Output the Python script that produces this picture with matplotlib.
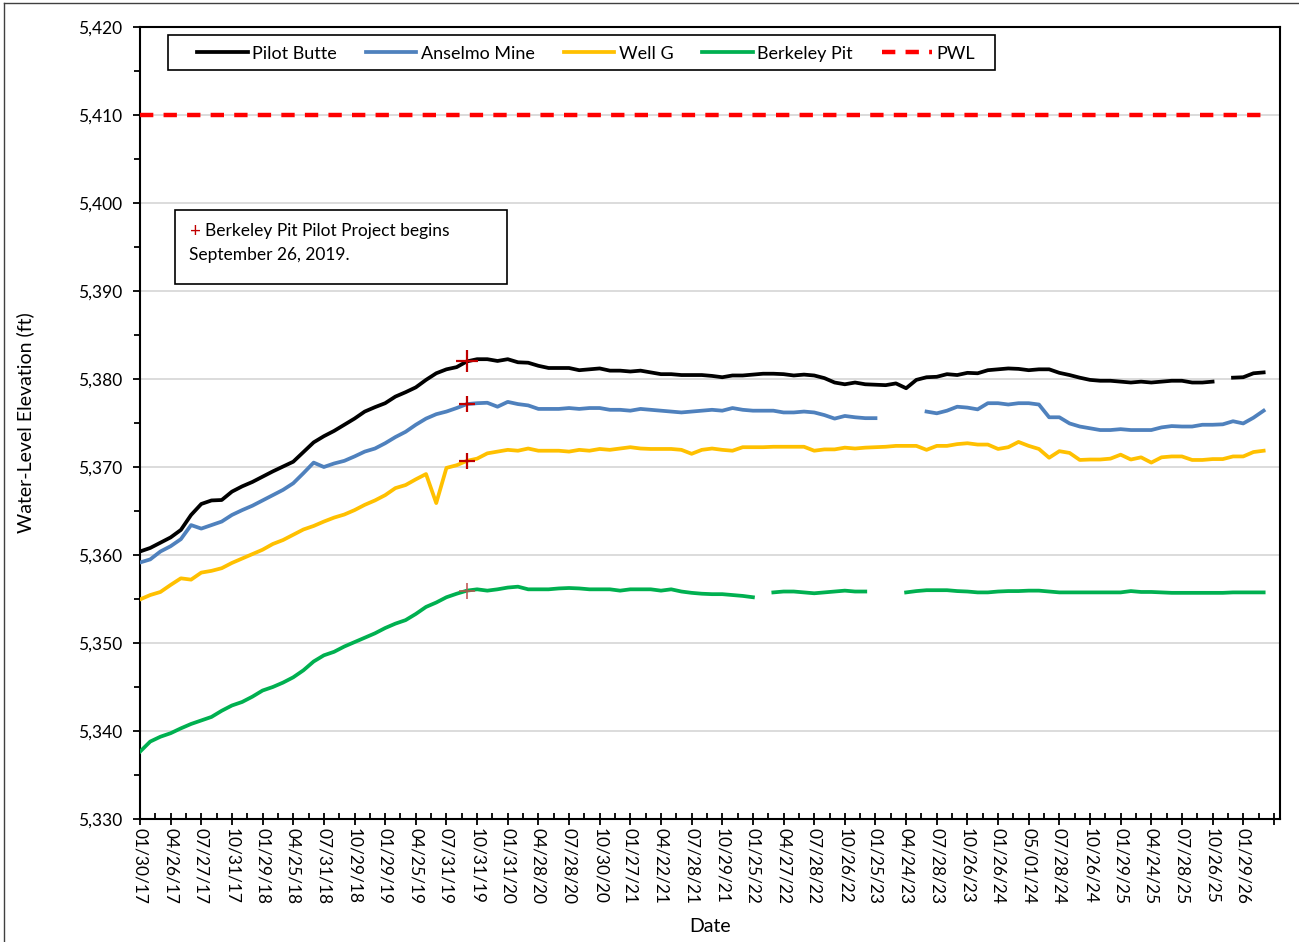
import numpy as np
import matplotlib
matplotlib.use("Agg")
import matplotlib.pyplot as plt
from matplotlib.patches import Rectangle
from matplotlib.lines import Line2D
from matplotlib.ticker import MultipleLocator, FuncFormatter

plt.rcParams["font.family"] = ["Lato", "DejaVu Sans"]

nan = np.nan

# monthly water-level elevations (ft), Jan 2017 onward
pilot_butte = [5360.4, 5360.8, 5361.4, 5362.0, 5362.85, 5364.55, 5365.8, 5366.2, 5366.25, 5367.2,
               5367.8, 5368.3, 5368.9, 5369.5, 5370.05, 5370.6, 5371.7, 5372.8, 5373.5, 5374.1,
               5374.8, 5375.5, 5376.3, 5376.8, 5377.25, 5378.0, 5378.5, 5379.05, 5379.9, 5380.65,
               5381.1, 5381.35, 5382.0, 5382.25, 5382.25, 5382.05, 5382.25, 5381.9, 5381.85, 5381.5,
               5381.25, 5381.25, 5381.25, 5381.0, 5381.1, 5381.2, 5380.95, 5380.95, 5380.85, 5380.95,
               5380.75, 5380.55, 5380.55, 5380.45, 5380.45, 5380.45, 5380.35, 5380.2, 5380.4, 5380.4,
               5380.5, 5380.6, 5380.6, 5380.55, 5380.4, 5380.5, 5380.4, 5380.1, 5379.6, 5379.4,
               5379.6, 5379.4, 5379.35, 5379.3, 5379.5, 5378.95, 5379.9, 5380.2, 5380.25, 5380.55,
               5380.45, 5380.7, 5380.65, 5381.0, 5381.1, 5381.2, 5381.15, 5381.0, 5381.1, 5381.1,
               5380.7, 5380.45, 5380.15, 5379.9, 5379.8, 5379.8, 5379.7, 5379.6, 5379.7, 5379.6,
               5379.7, 5379.8, 5379.8, 5379.6, 5379.6, 5379.7, nan, 5380.15, 5380.2, 5380.65,
               5380.75]

anselmo_mine = [5359.15, 5359.5, 5360.4, 5361.0, 5361.8, 5363.4, 5363.0, 5363.4, 5363.8, 5364.55,
                5365.1, 5365.6, 5366.2, 5366.8, 5367.4, 5368.15, 5369.3, 5370.5, 5370.0, 5370.4,
                5370.7, 5371.2, 5371.75, 5372.1, 5372.7, 5373.4, 5374.0, 5374.8, 5375.5, 5376.0,
                5376.3, 5376.7, 5377.15, 5377.25, 5377.3, 5376.85, 5377.4, 5377.15, 5377.0, 5376.6,
                5376.6, 5376.6, 5376.7, 5376.6, 5376.7, 5376.7, 5376.5, 5376.5, 5376.4, 5376.6,
                5376.5, 5376.4, 5376.3, 5376.2, 5376.3, 5376.4, 5376.5, 5376.4, 5376.7, 5376.5,
                5376.4, 5376.4, 5376.4, 5376.2, 5376.2, 5376.3, 5376.2, 5375.9, 5375.5, 5375.8,
                5375.65, 5375.55, 5375.55, nan, nan, nan, nan, 5376.3, 5376.1, 5376.4,
                5376.85, 5376.75, 5376.55, 5377.25, 5377.25, 5377.1, 5377.25, 5377.25, 5377.1, 5375.65,
                5375.65, 5374.95, 5374.6, 5374.4, 5374.2, 5374.2, 5374.3, 5374.2, 5374.2, 5374.2,
                5374.5, 5374.65, 5374.6, 5374.6, 5374.8, 5374.8, 5374.85, 5375.2, 5374.95, 5375.6,
                5376.4]

well_g = [5354.95, 5355.45, 5355.8, 5356.6, 5357.35, 5357.2, 5358.0, 5358.2, 5358.5, 5359.1,
          5359.6, 5360.1, 5360.6, 5361.25, 5361.7, 5362.3, 5362.9, 5363.3, 5363.8, 5364.25,
          5364.6, 5365.1, 5365.7, 5366.2, 5366.8, 5367.6, 5367.95, 5368.6, 5369.2, 5365.9,
          5369.9, 5370.2, 5370.7, 5370.95, 5371.55, 5371.75, 5371.95, 5371.85, 5372.1, 5371.85,
          5371.85, 5371.85, 5371.75, 5371.95, 5371.85, 5372.05, 5371.95, 5372.1, 5372.25, 5372.1,
          5372.05, 5372.05, 5372.05, 5371.95, 5371.5, 5371.95, 5372.1, 5371.95, 5371.85, 5372.25,
          5372.25, 5372.25, 5372.3, 5372.3, 5372.3, 5372.3, 5371.85, 5372.0, 5372.0, 5372.2,
          5372.1, 5372.2, 5372.25, 5372.3, 5372.4, 5372.4, 5372.4, 5371.95, 5372.4, 5372.4,
          5372.6, 5372.7, 5372.55, 5372.55, 5372.05, 5372.25, 5372.85, 5372.4, 5372.05, 5371.05,
          5371.8, 5371.6, 5370.8, 5370.85, 5370.85, 5370.95, 5371.4, 5370.85, 5371.1, 5370.5,
          5371.1, 5371.2, 5371.2, 5370.8, 5370.8, 5370.9, 5370.9, 5371.2, 5371.2, 5371.7,
          5371.85]

berkeley_pit = [5337.65, 5338.8, 5339.35, 5339.75, 5340.3, 5340.8, 5341.2, 5341.6, 5342.3, 5342.9,
                5343.3, 5343.9, 5344.6, 5345.0, 5345.5, 5346.1, 5346.9, 5347.9, 5348.6, 5349.0,
                5349.6, 5350.1, 5350.6, 5351.1, 5351.7, 5352.2, 5352.6, 5353.3, 5354.1, 5354.6,
                5355.2, 5355.6, 5355.95, 5356.1, 5355.95, 5356.1, 5356.3, 5356.4, 5356.1, 5356.1,
                5356.1, 5356.2, 5356.25, 5356.2, 5356.1, 5356.1, 5356.1, 5355.95, 5356.1, 5356.1,
                5356.1, 5355.95, 5356.1, 5355.85, 5355.7, 5355.6, 5355.55, 5355.55, 5355.45, 5355.35,
                5355.2, nan, 5355.75, 5355.85, 5355.85, 5355.75, 5355.65, 5355.75, 5355.85, 5355.95,
                5355.85, 5355.85, nan, nan, nan, 5355.75, 5355.9, 5356.0, 5356.0, 5356.0,
                5355.9, 5355.85, 5355.75, 5355.75, 5355.85, 5355.9, 5355.9, 5355.95, 5355.95, 5355.85,
                5355.75, 5355.75, 5355.75, 5355.75, 5355.75, 5355.75, 5355.75, 5355.9, 5355.8, 5355.8,
                5355.75, 5355.7, 5355.7, 5355.7, 5355.7, 5355.7, 5355.7, 5355.75, 5355.75, 5355.75,
                5355.75]

pwl = 5410  # protective water level
pilot_start = 32  # index of 09/26/19 reading

date_labels = ["01/30/17", "04/26/17", "07/27/17", "10/31/17", "01/29/18", "04/25/18", "07/31/18",
               "10/29/18", "01/29/19", "04/25/19", "07/31/19", "10/31/19", "01/31/20", "04/28/20",
               "07/28/20", "10/30/20", "01/27/21", "04/22/21", "07/28/21", "10/29/21", "01/25/22",
               "04/27/22", "07/28/22", "10/26/22", "01/25/23", "04/24/23", "07/28/23", "10/26/23",
               "01/26/24", "05/01/24", "07/28/24", "10/26/24", "01/29/25", "04/24/25", "07/28/25",
               "10/26/25", "01/29/26"]

n = len(pilot_butte)
x = np.arange(n)

fig = plt.figure(figsize=(12.99, 9.42), dpi=100)
ax = fig.add_axes([140 / 1299, 1 - 819 / 942, 1140 / 1299, 792 / 942])

lw = 2.7
ax.plot(x, pilot_butte, color="black", lw=lw, label="Pilot Butte", zorder=3)
ax.plot(x, anselmo_mine, color="#4f81bd", lw=lw, label="Anselmo Mine", zorder=3)
ax.plot(x, well_g, color="#ffc000", lw=lw, label="Well G", zorder=3)
ax.plot(x, berkeley_pit, color="#00b050", lw=lw, label="Berkeley Pit", zorder=3)
ax.plot(x, [pwl] * n, color="#ff0000", lw=3.2, ls=(0, (3, 2.3)), label="PWL", zorder=3)

# pilot project start markers
ax.plot(pilot_start, pilot_butte[pilot_start], "+", color="#c00000", ms=16, mew=1.6, zorder=4)
ax.plot(pilot_start, anselmo_mine[pilot_start], "+", color="#c00000", ms=12, mew=1.6, zorder=4)
ax.plot(pilot_start, well_g[pilot_start], "+", color="#c00000", ms=11, mew=1.6, zorder=4)
ax.plot(pilot_start, berkeley_pit[pilot_start], "+", color="#c0504d", ms=12, mew=1.4, alpha=0.8, zorder=4)

ax.set_xlim(0, 111.6)
ax.set_ylim(5330, 5420)
ax.yaxis.set_major_locator(MultipleLocator(10))
ax.yaxis.set_minor_locator(MultipleLocator(5))
ax.yaxis.set_major_formatter(FuncFormatter(lambda v, p: f"{v:,.0f}"))
ax.grid(axis="y", which="major", color="#d9d9d9", lw=1.3, zorder=0)

ticks = np.arange(0, 112, 3)
ax.set_xticks(ticks)
ax.set_xticklabels(date_labels + [""] * (len(ticks) - len(date_labels)), rotation=-90)
ax.set_xticks(ticks[:-1] + 1.5, minor=True)
ax.tick_params(axis="x", which="major", direction="inout", length=9, width=1.3, labelsize=12.5, pad=2)
ax.tick_params(axis="x", which="minor", direction="in", length=4, width=1.3)
ax.tick_params(axis="y", which="major", direction="out", length=5, width=1.3, labelsize=12.5, pad=8)
ax.tick_params(axis="y", which="minor", direction="out", length=4, width=1.3)
for s in ax.spines.values():
    s.set_linewidth(1.5)
    s.set_color("black")

ax.set_ylabel("Water-Level Elevation (ft)", fontsize=14, labelpad=31)
ax.set_xlabel("Date", fontsize=14, labelpad=10)

# legend: entries without frame, box drawn separately
leg = ax.legend(ncol=5, loc="center left", bbox_to_anchor=(0.05, 0.9663), fontsize=13,
                frameon=False, borderaxespad=0, borderpad=0,
                handlelength=2.8, columnspacing=1.6, handletextpad=0.25)
leg.set_zorder(6)
ax.add_patch(Rectangle((0.0246, 0.9457), 0.7254, 0.0443, transform=ax.transAxes,
                       facecolor="white", edgecolor="black", lw=1.2, zorder=5))

# annotation box
ax.add_patch(Rectangle((0.0307, 0.676), 0.291, 0.093, transform=ax.transAxes,
                       fill=False, edgecolor="black", lw=1.2, zorder=5))
ax.text(0.044, 0.742, "+", color="#c00000", fontsize=13.5, transform=ax.transAxes, va="center")
ax.text(0.057, 0.742, "Berkeley Pit Pilot Project begins", fontsize=12.5, transform=ax.transAxes, va="center")
ax.text(0.043, 0.712, "September 26, 2019.", fontsize=12.5, transform=ax.transAxes, va="center")

# chart area border
fig.add_artist(Line2D([4 / 1299, 4 / 1299], [0, 1 - 3 / 942], transform=fig.transFigure, color="#404040", lw=1))
fig.add_artist(Line2D([4 / 1299, 1], [1 - 3 / 942, 1 - 3 / 942], transform=fig.transFigure, color="#404040", lw=1))

fig.savefig("out.png", dpi=100)
